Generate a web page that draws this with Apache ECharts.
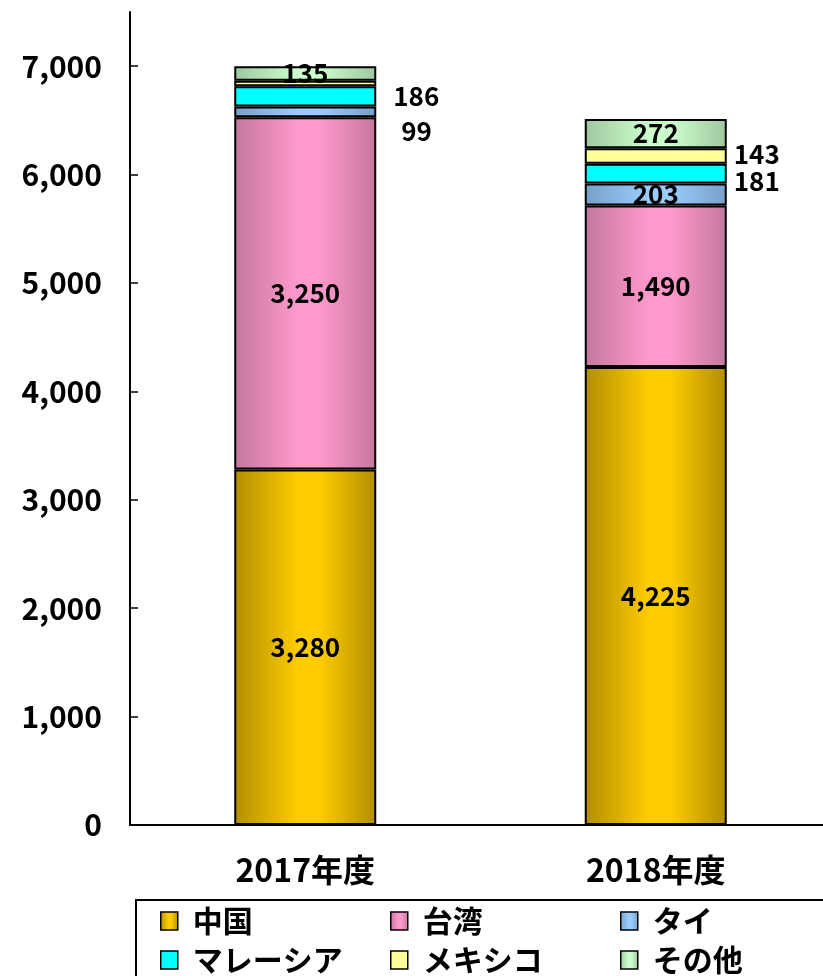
<!DOCTYPE html>
<html>
<head>
<meta charset="utf-8">
<script src="https://cdn.jsdelivr.net/npm/echarts@6/dist/echarts.min.js"></script>
<style>
  html, body { margin: 0; padding: 0; background: #fff; }
  #chart { width: 823px; height: 976px; }
</style>
</head>
<body>
<div id="chart"></div>
<script>
// 年度ごとの国別データ
const categories = ['2017年度', '2018年度'];
const china = [3280, 4225];
const taiwan = [3250, 1490];
const thailand = [99, 203];
const malaysia = [186, 181];
const mexico = [50, 143];
const others = [135, 272];
const yTicks = [0, 1000, 2000, 3000, 4000, 5000, 6000, 7000];

const FONT = 'Noto Sans CJK JP';

const chart = echarts.init(document.getElementById('chart'));

// 横方向のグラデーション（端が暗く中央が明るい）
function grad(edge, center) {
  return new echarts.graphic.LinearGradient(0, 0, 1, 0, [
    { offset: 0, color: edge },
    { offset: 0.45, color: center },
    { offset: 0.6, color: center },
    { offset: 1, color: edge }
  ]);
}

const inside = { show: true, position: 'inside' };
const hidden = { show: false };
function outside(distance, dy) {
  return { show: true, position: 'right', distance: distance, offset: [0, dy] };
}

// ラベルの表示方法（データ点ごと）
const labelModes = {
  '中国': [inside, inside],
  '台湾': [inside, inside],
  'タイ': [outside(25, 19), inside],
  'マレーシア': [outside(17, 0), outside(7, 7)],
  'メキシコ': [hidden, outside(7, -2)],
  'その他': [inside, inside]
};

const seriesDefs = [
  { name: '中国', values: china, color: grad('#b08e00', '#ffcc00') },
  { name: '台湾', values: taiwan, color: grad('#c4789e', '#ff99cc') },
  { name: 'タイ', values: thailand, color: grad('#78a0c8', '#99ccff') },
  { name: 'マレーシア', values: malaysia, color: '#00ffff' },
  { name: 'メキシコ', values: mexico, color: '#ffff99' },
  { name: 'その他', values: others, color: grad('#9fc79f', '#ccffcc') }
];

const series = seriesDefs.map(s => ({
  name: s.name,
  type: 'bar',
  stack: 'total',
  barWidth: 142,
  itemStyle: { color: s.color, borderColor: '#000', borderWidth: 2 },
  label: {
    color: '#000',
    fontFamily: FONT,
    fontWeight: 'bold',
    fontSize: 26,
    formatter: p => p.value.toLocaleString('en-US')
  },
  data: s.values.map((v, i) => ({ value: v, label: labelModes[s.name][i] }))
}));

const legendText = {
  color: '#000',
  fontFamily: FONT,
  fontWeight: 'bold',
  fontSize: 30,
  lineHeight: 30,
  padding: [0, 0, 0, 10]
};
function legendCol(left, names) {
  return {
    orient: 'vertical',
    left: left,
    top: 906,
    height: 90,
    padding: 0,
    itemWidth: 17,
    itemHeight: 18,
    itemGap: 9,
    icon: 'rect',
    selectedMode: false,
    itemStyle: { borderColor: '#000', borderWidth: 1.5 },
    textStyle: legendText,
    data: names
  };
}

const options = {
  animation: false,
  backgroundColor: '#fff',
  grid: { left: 130, top: 12, width: 701, height: 813, outerBoundsMode: 'none' },
  xAxis: {
    type: 'category',
    data: categories,
    axisLine: { lineStyle: { color: '#000', width: 2 } },
    axisTick: { inside: true, length: 8, lineStyle: { color: '#000', width: 1.5 } },
    axisLabel: {
      color: '#000',
      fontFamily: FONT,
      fontWeight: 'bold',
      fontSize: 32,
      margin: 29
    }
  },
  yAxis: {
    type: 'value',
    min: 0,
    max: 7500,
    interval: 1000,
    splitLine: { show: false },
    axisLine: { show: true, lineStyle: { color: '#000', width: 2 } },
    axisTick: {
      show: true,
      inside: true,
      length: 8,
      customValues: yTicks,
      lineStyle: { color: '#000', width: 1.5 }
    },
    axisLabel: {
      color: '#000',
      fontFamily: FONT,
      fontWeight: 'bold',
      fontSize: 30,
      margin: 28,
      customValues: yTicks,
      formatter: v => v.toLocaleString('en-US')
    }
  },
  legend: [
    legendCol(160, ['中国', 'マレーシア']),
    legendCol(390, ['台湾', 'メキシコ']),
    legendCol(620, ['タイ', 'その他'])
  ],
  graphic: [{
    type: 'rect',
    shape: { x: 136, y: 900, width: 700, height: 90 },
    style: { fill: 'none', stroke: '#000', lineWidth: 2 },
    z: -1
  }],
  series: series
};

chart.setOption(options);
</script>
</body>
</html>
